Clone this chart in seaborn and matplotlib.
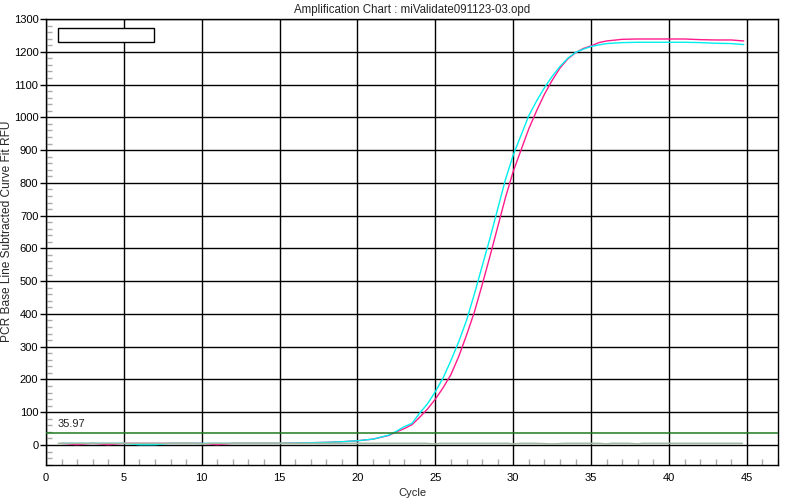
# amplification chart - two wells, baselines, threshold
import numpy as np
import pandas as pd
import matplotlib
matplotlib.use("Agg")
import matplotlib.pyplot as plt
import seaborn as sns
from matplotlib.patches import Rectangle
from matplotlib.ticker import MultipleLocator

title = "Amplification Chart : miValidate091123-03.opd"

cycles = [1, 2, 3, 4, 5, 6, 7, 8, 9, 10, 11, 12, 13, 14, 15, 16, 17, 18, 19, 20, 21,
          22, 22.5, 23, 23.5, 24, 24.5, 25, 25.5, 26, 26.5, 27, 27.5, 28, 28.5, 29, 29.5,
          30, 30.5, 31, 31.5, 32, 32.5, 33, 33.5, 34, 34.5, 35, 35.5, 36,
          37, 38, 39, 40, 41, 42, 43, 44, 44.8]

well_a = [5, 1, 5, 1, 5, 5, 5, 5, 5, 5, 1, 5, 5, 5, 5, 6, 7, 8, 10, 13, 18,
          29, 40, 50, 62, 85, 110, 140, 175, 215, 270, 335, 405, 488, 575, 665, 755,
          835, 900, 965, 1020, 1070, 1113, 1150, 1178, 1197, 1210, 1218, 1228, 1233,
          1238, 1239, 1239, 1239, 1239, 1237, 1236, 1236, 1233]

well_b = [5, 5, 5, 5, 5, 1, 1, 5, 5, 5, 5, 5, 5, 5, 5, 6, 7, 8, 10, 13, 18,
          30, 42, 56, 66, 98, 126, 163, 205, 258, 315, 380, 460, 545, 630, 720, 810,
          885, 945, 1005, 1050, 1090, 1125, 1155, 1180, 1198, 1208, 1216, 1221, 1225,
          1228, 1229, 1229, 1229, 1229, 1228, 1226, 1225, 1222]

# negative control baseline
base_cycles = [0.8, 5, 9.5, 10, 10.5, 15, 20, 24.4, 25, 25.3, 29.7, 30, 30.5,
               31.4, 32.5, 33.4, 35.5, 36, 36.3, 37.4, 38, 38.3, 44.7]
base_rfu = [5, 5, 5, 3, 5, 5, 5, 5, 3, 5, 5, 3, 5,
            5, 3, 5, 5, 3, 5, 5, 3, 5, 5]

threshold = 35.97

sns.set_style("white")
plt.rcParams['font.family'] = ['Liberation Sans', 'DejaVu Sans']

df = pd.DataFrame({
    "Cycle": cycles + cycles,
    "RFU": well_a + well_b,
    "Well": ["A"] * len(cycles) + ["B"] * len(cycles),
})

fig = plt.figure(figsize=(8, 5), dpi=100)
ax = fig.add_axes([0.0575, 0.07, 0.915, 0.892])

sns.lineplot(data=df, x="Cycle", y="RFU", hue="Well",
             palette={"A": "#ff1a8c", "B": "#00eeee"},
             linewidth=1.0, legend=False, ax=ax, zorder=3)
sns.lineplot(x=base_cycles, y=base_rfu, color="#a2b8a2", linewidth=1.2,
             ax=ax, zorder=4)
ax.axhline(threshold, color="#1f7a1f", linewidth=1.1, zorder=4)
ax.text(0.77, threshold + 12, f"{threshold:.2f}", fontsize=8, va="bottom",
        ha="left", zorder=5)

# empty legend box
ax.add_patch(Rectangle((0.0164, 0.948), 0.131, 0.0314, transform=ax.transAxes,
                       facecolor="white", edgecolor="black", linewidth=1, zorder=5))

ax.set_xlim(0, 47)
ax.set_ylim(-61, 1300)
ax.xaxis.set_major_locator(MultipleLocator(5))
ax.xaxis.set_minor_locator(MultipleLocator(1))
ax.set_yticks(np.arange(0, 1301, 100))
ax.yaxis.set_minor_locator(MultipleLocator(20))

ax.grid(True, which="major", color="black", linewidth=1)
ax.set_axisbelow(True)
for sp in ax.spines.values():
    sp.set_color("black")
    sp.set_linewidth(1)

ax.tick_params(axis="x", which="major", length=0, pad=6, labelsize=8, colors="black")
ax.tick_params(axis="y", which="major", length=4, width=1, pad=1.5, labelsize=8,
               direction="out", left=True, colors="black")
ax.tick_params(axis="both", which="minor", direction="in", length=4, width=1,
               color="#aaaaaa", bottom=True, left=True)

ax.set_xlabel("Cycle", fontsize=8, labelpad=3)
ax.set_ylabel("PCR Base Line Subtracted Curve Fit RFU", fontsize=8.6)
ax.yaxis.set_label_coords(-0.0455, 0.525)
ax.set_title(title, fontsize=8.3, pad=4)

fig.savefig("out.png", dpi=100)
